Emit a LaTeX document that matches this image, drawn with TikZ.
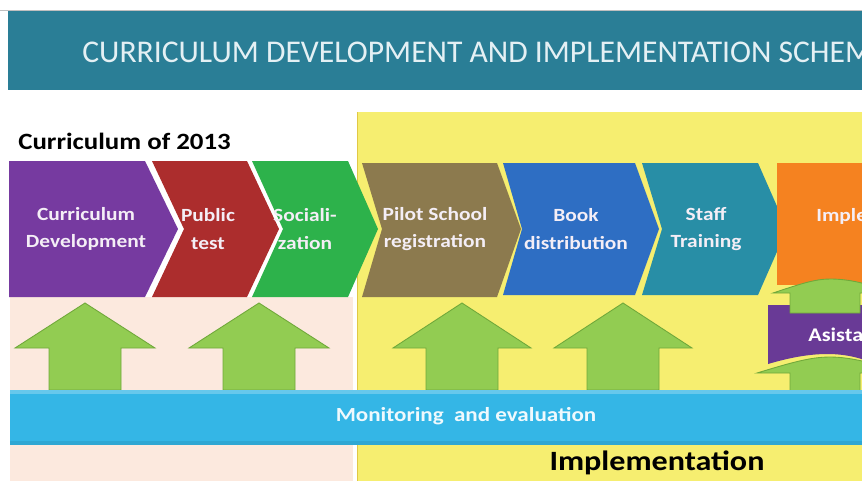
\documentclass[tikz,border=0pt]{standalone}
\usepackage{fontspec}
\setmainfont{Carlito}
\newfontfamily\widefont{Carlito}[FakeStretch=1.15]
\usetikzlibrary{positioning}

\definecolor{headteal}{RGB}{42,126,150}
\definecolor{titletext}{RGB}{228,240,244}
\definecolor{pinkbg}{RGB}{252,233,222}
\definecolor{yellowbg}{RGB}{246,238,112}
\definecolor{yellowedge}{RGB}{225,200,70}
\definecolor{cdpurple}{RGB}{118,58,160}
\definecolor{ptred}{RGB}{172,45,45}
\definecolor{sogreen}{RGB}{45,178,75}
\definecolor{psolive}{RGB}{140,122,78}
\definecolor{bdblue}{RGB}{46,110,195}
\definecolor{stteal}{RGB}{40,142,166}
\definecolor{imorange}{RGB}{245,130,32}
\definecolor{asviolet}{RGB}{105,58,150}
\definecolor{upgreen}{RGB}{146,204,82}
\definecolor{upedge}{RGB}{112,168,58}
\definecolor{monblue}{RGB}{52,182,230}
\definecolor{labeltext}{RGB}{244,238,246}

\begin{document}
\begin{tikzpicture}[x=0.02cm, y=-0.02cm,
  steplabel/.style={text=labeltext, font=\widefont\bfseries\fontsize{10.6}{15.4}\selectfont, align=center},
  uparrow/.style={fill=upgreen, draw=upedge, line width=0.5pt},
  blacklabel/.style={text=black, font=\widefont\bfseries}]
\clip (0,0) rectangle (862,481);
\fill[white] (0,0) rectangle (862,481);
\draw[black!25] (0,10) -- (862,10);

% header
\fill[headteal] (8,11) rectangle (870,90);
\node[anchor=base west, inner sep=0, text=titletext, font=\fontsize{18}{20}\selectfont] (title) at (82,62) {CURRICULUM DEVELOPMENT AND IMPLEMENTATION SCHEME};

% backgrounds
\fill[pinkbg] (10,297) rectangle (353,481);
\fill[yellowbg] (357,112) rectangle (870,481);
\draw[yellowedge, line width=0.6pt] (357.5,112) -- (357.5,481);
\node[blacklabel, anchor=base west, inner sep=0, font=\widefont\bfseries\fontsize{13.3}{15}\selectfont] (year) at (18,149) {Curriculum of 2013};

% chevrons
\fill[cdpurple] (9,161) -- (145,161) -- (178,229) -- (145,297) -- (9,297) -- cycle;
\fill[ptred] (152,161) -- (247,161) -- (279,229) -- (247,297) -- (152,297) -- (184,229) -- cycle;
\fill[sogreen] (252,161) -- (348,161) -- (378,229) -- (348,297) -- (252,297) -- (283,229) -- cycle;
\fill[psolive] (362,163) -- (497,163) -- (521,229) -- (497,297) -- (362,297) -- (382,229) -- cycle;
\fill[bdblue] (503,163) -- (635,163) -- (659,229) -- (635,295) -- (503,295) -- (522,229) -- cycle;
\fill[stteal] (642,163) -- (758,163) -- (787,229) -- (758,295) -- (642,295) -- (662,229) -- cycle;
\fill[imorange] (777,163) rectangle (870,285);

\node[steplabel] (curdev) at (86,229) {Curriculum\\Development};
\node[steplabel] (pubtest) at (208,229) {Public\\test};
\node[steplabel] (social) at (305,229) {Sociali-\\zation};
\node[steplabel] (pilot) at (435,229) {Pilot School\\registration};
\node[steplabel] (book) at (576,229) {Book\\distribution};
\node[steplabel] (staff) at (706,229) {Staff\\Training};
\node[steplabel, anchor=base west, inner sep=0] (impl) at (816,221) {Implementation};

% up arrows
\fill[uparrow] (85,303) -- (155,348) -- (121,348) -- (121,390) -- (49,390) -- (49,348) -- (15,348) -- cycle;
\fill[uparrow] (259,303) -- (329,348) -- (295,348) -- (295,390) -- (223,390) -- (223,348) -- (189,348) -- cycle;
\fill[uparrow] (462,303) -- (531,348) -- (498,348) -- (498,390) -- (426,390) -- (426,348) -- (393,348) -- cycle;
\fill[uparrow] (623,303) -- (692,348) -- (659,348) -- (659,390) -- (587,390) -- (587,348) -- (554,348) -- cycle;

% assistance block
\fill[asviolet] (768,305) -- (870,305) -- (870,362) .. controls (845,352) and (815,350) .. (768,364) -- cycle;
\fill[uparrow] (773,293) .. controls (800,284) and (815,279) .. (830,279) .. controls (850,279) and (870,284) .. (890,293) -- (860,293) -- (860,313) -- (790,313) -- (790,293) -- cycle;
\node[anchor=base west, inner sep=0, text=white, font=\widefont\bfseries\fontsize{11}{13}\selectfont] (assist) at (808,341) {Asistance};
\fill[uparrow] (757,373) .. controls (790,363) and (810,357) .. (830,357) .. controls (850,357) and (875,363) .. (900,373) -- (860,373) -- (860,392) -- (790,392) -- (790,373) -- cycle;

% monitoring bar
\fill[monblue] (10,390) rectangle (870,445);
\fill[white, opacity=0.25] (10,390) rectangle (870,394);
\fill[black, opacity=0.08] (10,441) rectangle (870,445);
\node[text=white!92!monblue, font=\widefont\bfseries\fontsize{11.4}{13}\selectfont] (monitor) at (466,416) {Monitoring\ \ and evaluation};

\node[blacklabel, font=\widefont\bfseries\fontsize{15.9}{18}\selectfont] (implabel) at (657,463) {Implementation};
\end{tikzpicture}
\end{document}
